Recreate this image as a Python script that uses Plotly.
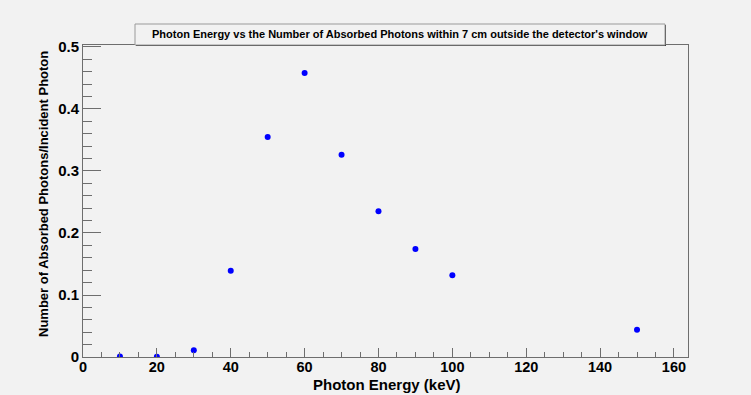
import plotly.graph_objects as go

energy_kev = [10, 20, 30, 40, 50, 60, 70, 80, 90, 100, 150]
absorbed_fraction = [0.001, 0.0005, 0.011, 0.139, 0.355, 0.458, 0.326, 0.235, 0.174, 0.132, 0.044]

title_text = "Photon Energy vs the Number of Absorbed Photons within 7 cm outside the detector's window"
x_title = "Photon Energy (keV)"
y_title = "Number of Absorbed Photons/Incident Photon"

W, H = 751, 395
L, R, T, B = 83, 688, 45, 357
bg = "#f2f2f2"
axc = "#6e6e6e"
font_fam = "Liberation Sans, Arial, sans-serif"

fig = go.Figure()
fig.add_trace(go.Scatter(
    x=energy_kev, y=absorbed_fraction, mode="markers",
    marker=dict(color="#0000ff", size=6, line=dict(width=0)),
    showlegend=False, hoverinfo="x+y",
))

fig.update_layout(
    width=W, height=H,
    margin=dict(l=L, r=W - R, t=T, b=H - B, pad=0, autoexpand=False),
    paper_bgcolor=bg, plot_bgcolor=bg,
    font=dict(family=font_fam, color="black"),
    xaxis=dict(
        range=[0, 163.8], showgrid=False, zeroline=False, automargin=False,
        showline=True, linecolor=axc, linewidth=1, mirror=True,
        ticks="inside", ticklen=9, tickcolor=axc, tickwidth=1, dtick=20, tick0=0,
        minor=dict(ticks="inside", ticklen=5, dtick=5, tickcolor=axc, showgrid=False),
        tickfont=dict(size=14.5, family=font_fam, weight="bold"),
        ticklabelstandoff=-3,
    ),
    yaxis=dict(
        range=[0, 0.5032], showgrid=False, zeroline=False, automargin=False,
        showline=True, linecolor=axc, linewidth=1, mirror=True,
        ticks="inside", ticklen=18, tickcolor=axc, tickwidth=1, dtick=0.1, tick0=0,
        minor=dict(ticks="inside", ticklen=9, dtick=0.02, tickcolor=axc, showgrid=False),
        tickfont=dict(size=15, family=font_fam, weight="bold"),
        tickformat="~g",
    ),
)


def px_to_paper_x(px):
    return (px - L) / (R - L)


def px_to_paper_y(py):
    return (B - py) / (B - T)


# Axis titles
fig.add_annotation(xref="paper", yref="paper",
                   x=px_to_paper_x(387), y=px_to_paper_y(384),
                   text=x_title, showarrow=False,
                   font=dict(size=15, family=font_fam, weight="bold"),
                   xanchor="center", yanchor="middle")
fig.add_annotation(xref="paper", yref="paper",
                   x=px_to_paper_x(43), y=px_to_paper_y(194),
                   text=y_title, showarrow=False, textangle=-90,
                   font=dict(size=13, family=font_fam, weight="bold"),
                   xanchor="center", yanchor="middle")

# Title box with shadow (ROOT style)
fig.add_shape(type="rect", xref="paper", yref="paper",
              x0=px_to_paper_x(136), x1=px_to_paper_x(666),
              y0=px_to_paper_y(46), y1=px_to_paper_y(25),
              line=dict(width=0), fillcolor="#3a3a3a", layer="above")
fig.add_shape(type="rect", xref="paper", yref="paper",
              x0=px_to_paper_x(135), x1=px_to_paper_x(665),
              y0=px_to_paper_y(45), y1=px_to_paper_y(24),
              line=dict(width=1, color="#9a9a9a"), fillcolor=bg, layer="above")
fig.add_annotation(xref="paper", yref="paper",
                   x=px_to_paper_x(400), y=px_to_paper_y(34.5),
                   text=title_text, showarrow=False,
                   font=dict(size=11, family=font_fam, weight="bold", color="black"),
                   xanchor="center", yanchor="middle")

fig.write_html(
    "out.html",
    config={"displayModeBar": False},
    post_script="document.body.style.margin='0';document.body.style.background='%s';" % bg,
)
